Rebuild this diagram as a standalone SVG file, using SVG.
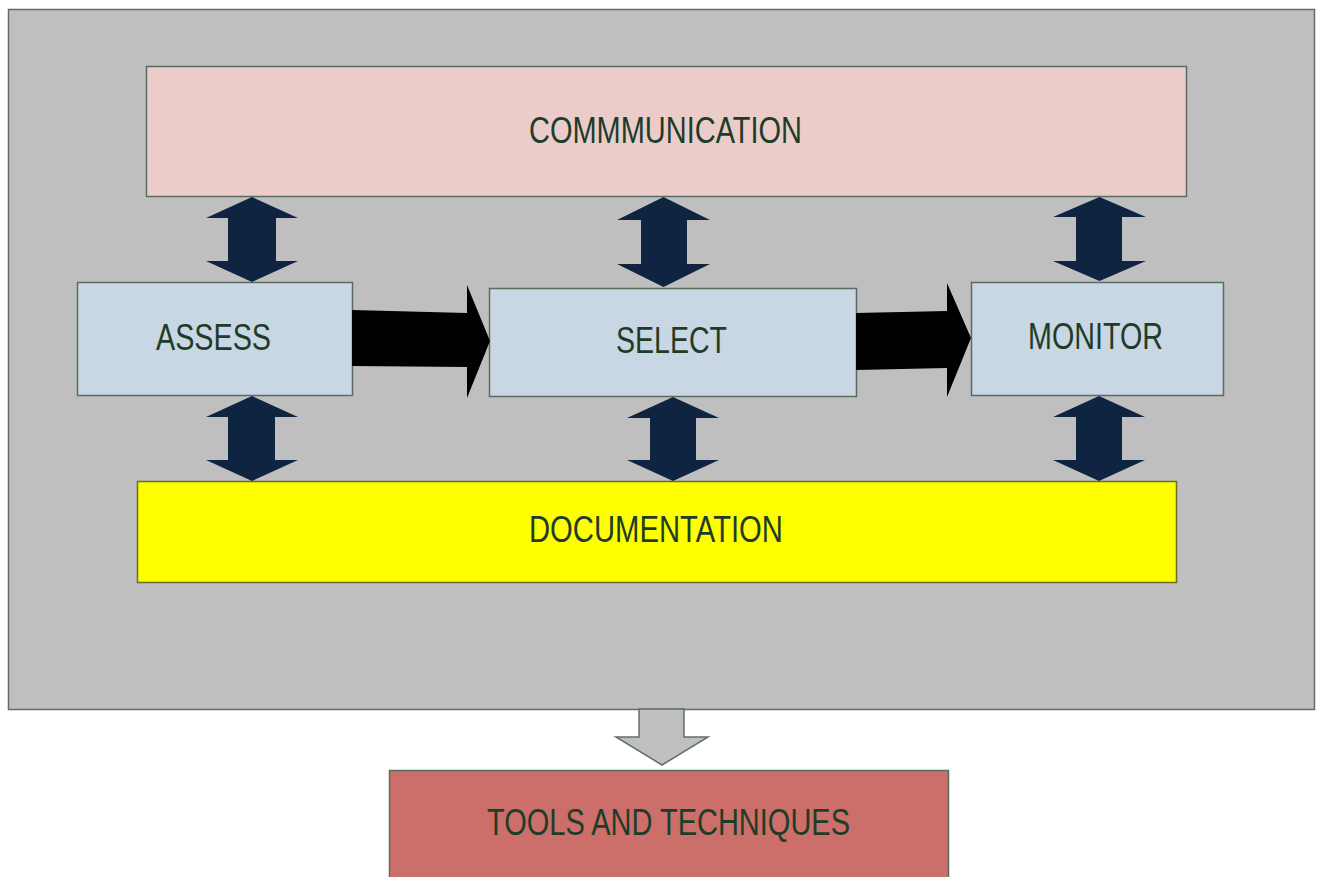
<svg xmlns="http://www.w3.org/2000/svg" width="1317" height="877" viewBox="0 0 1317 877">
  <style>
    .lbl { font-family: "Liberation Sans", Arial, sans-serif; font-size: 37px; fill: #1e3d28; }
    .step { fill: #c9d6e4; stroke: #5c6b62; stroke-width: 1.5; }
    .dbl { fill: #0e2440; }
    .flow { fill: #000000; }
  </style>

  <rect width="1317" height="877" fill="#ffffff"/>

  <!-- process frame -->
  <g id="frame">
    <rect x="8.5" y="9.5" width="1306" height="700" fill="#bfbfbf" stroke="#5f7060" stroke-width="1.5"/>
  </g>

  <g id="communication">
    <rect x="146.5" y="66.5" width="1040" height="130" fill="#ecccca" stroke="#5c6b62" stroke-width="1.5"/>
    <text class="lbl" x="529" y="143" textLength="273" lengthAdjust="spacingAndGlyphs">COMMMUNICATION</text>
  </g>

  <g id="assess">
    <rect class="step" x="77.5" y="282.5" width="275" height="113"/>
    <text class="lbl" x="156" y="350" textLength="115" lengthAdjust="spacingAndGlyphs">ASSESS</text>
  </g>

  <g id="select">
    <rect class="step" x="489.5" y="288.5" width="367" height="108"/>
    <text class="lbl" x="616" y="353" textLength="111" lengthAdjust="spacingAndGlyphs">SELECT</text>
  </g>

  <g id="monitor">
    <rect class="step" x="971.5" y="282.5" width="252" height="113"/>
    <text class="lbl" x="1028" y="349" textLength="135" lengthAdjust="spacingAndGlyphs">MONITOR</text>
  </g>

  <g id="documentation">
    <rect x="137.5" y="481.5" width="1039" height="101" fill="#ffff00" stroke="#6b6b2a" stroke-width="1.5"/>
    <text class="lbl" x="529" y="542" textLength="254" lengthAdjust="spacingAndGlyphs">DOCUMENTATION</text>
  </g>

  <g id="tools">
    <rect x="389.5" y="770.5" width="559" height="120" fill="#cc6e69" stroke="#5c6b62" stroke-width="1.5"/>
    <text class="lbl" x="487" y="835" textLength="363" lengthAdjust="spacingAndGlyphs">TOOLS AND TECHNIQUES</text>
  </g>

  <g id="connectors">
    <!-- two-way links to communication -->
    <path class="dbl" d="M252,197 L298,218 L276,218 L276,261 L298,261 L252,282 L206,261 L228,261 L228,218 L206,218 Z"/>
    <path class="dbl" d="M663.5,197 L710,220 L687,220 L687,264 L710,264 L663.5,287 L617,264 L641,264 L641,220 L617,220 Z"/>
    <path class="dbl" d="M1099.5,197 L1146,217 L1122,217 L1122,261 L1146,261 L1099.5,281 L1053,261 L1076,261 L1076,217 L1053,217 Z"/>
    <!-- two-way links to documentation -->
    <path class="dbl" d="M252,396 L298,417 L275,417 L275,460 L298,460 L252,481 L206,460 L228,460 L228,417 L206,417 Z"/>
    <path class="dbl" d="M673,397 L719,418 L696,418 L696,460 L719,460 L673,481 L627,460 L650,460 L650,418 L627,418 Z"/>
    <path class="dbl" d="M1099,396 L1145,417 L1122,417 L1122,460 L1145,460 L1099,481 L1053,460 L1076,460 L1076,417 L1053,417 Z"/>
    <!-- process flow -->
    <path class="flow" d="M352,310 L467,313 L467,285 L490,341 L467,398 L467,367 L352,366 Z"/>
    <path class="flow" d="M856,313 L947,311 L947,283 L971,338 L947,397 L947,368 L856,370 Z"/>
    <!-- output to tools -->
    <path d="M639,709 L684,709 L684,737 L708,737 L662,765 L616,737 L639,737 Z" fill="#bfbfbf" stroke="#5f7060" stroke-width="1.5"/>
  </g>
</svg>
